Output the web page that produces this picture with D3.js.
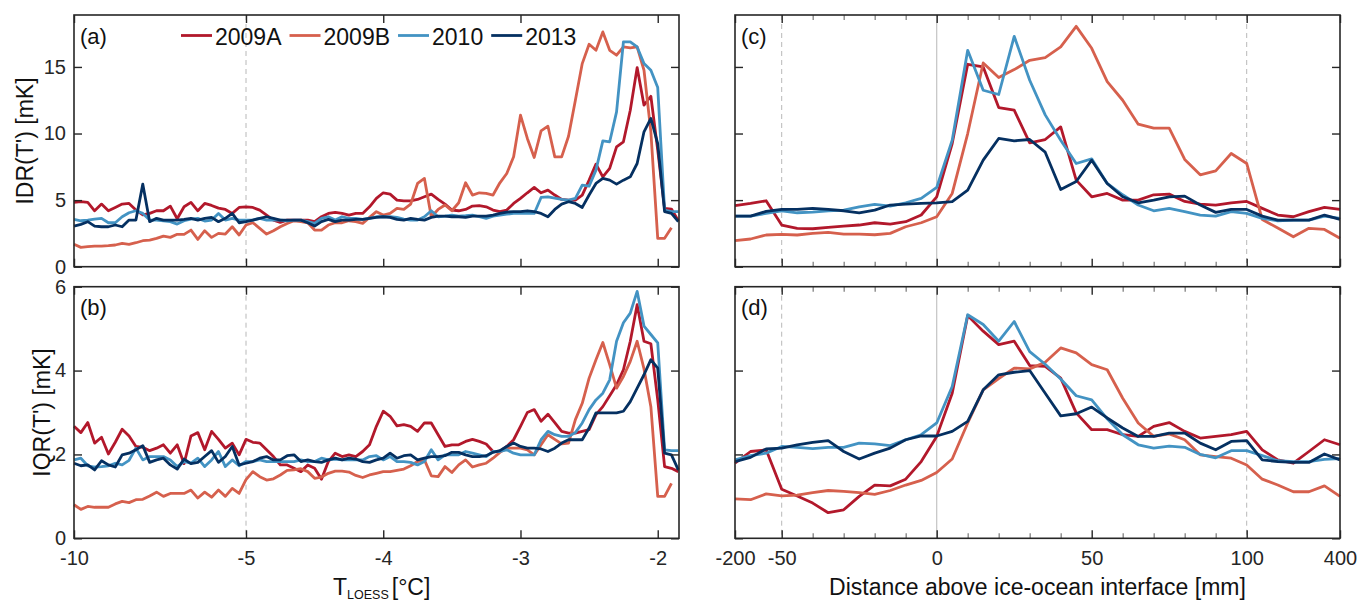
<!DOCTYPE html>
<html>
<head>
<meta charset="utf-8">
<script src="https://cdn.jsdelivr.net/npm/d3@7"></script>
<style>
    body { margin: 0; background: #fff; }
    svg { display: block; font-family: "Liberation Sans", Arial, Helvetica, sans-serif; }
</style>
</head>
<body>
<svg id="chart" width="1361" height="603"></svg>
<script>
// series
var seriesNames = ["2009A", "2009B", "2010", "2013"];
var seriesColors = ["#b2182b", "#d6604d", "#4393c3", "#053061"];

// panels (a) and (b): binned by T_LOESS
var tempGrid = [-10, -9.8, -9.6, -9.4, -9.2, -9, -8.8, -8.6, -8.4, -8.2, -8, -7.8, -7.6, -7.4, -7.2, -7,
    -6.8, -6.6, -6.4, -6.2, -6, -5.8, -5.6, -5.4, -5.2, -5,
    -4.95, -4.9, -4.85, -4.8, -4.75, -4.7, -4.65, -4.6, -4.55, -4.5, -4.45, -4.4, -4.35, -4.3, -4.25, -4.2,
    -4.15, -4.1, -4.05, -4, -3.95, -3.9, -3.85, -3.8, -3.75, -3.7, -3.65, -3.6, -3.55, -3.5, -3.45, -3.4,
    -3.35, -3.3, -3.25, -3.2, -3.15, -3.1, -3.05, -3, -2.95, -2.9, -2.85, -2.8, -2.75, -2.7, -2.65, -2.6,
    -2.55, -2.5, -2.45, -2.4, -2.35, -2.3, -2.25, -2.2, -2.15, -2.1, -2.05, -2, -1.95, -1.9, -1.85];

var idr2009A = [4.83, 4.88, 4.83, 4.2, 4.7, 4.2, 4.45, 4.7, 4.75, 4.25, 3.9, 4.0, 4.2, 4.2, 4.55, 3.6,
    4.5, 4.83, 4.2, 4.75, 4.6, 4.4, 4.3, 4.0, 4.45, 4.5,
    4.45, 4.25, 3.88, 3.5, 3.33, 3.5, 3.5, 3.5, 3.5, 3.38, 3.75, 4.0, 4.08, 4.0, 3.88, 4.0,
    4.0, 4.5, 5.13, 5.55, 5.45, 5.0, 4.95, 4.95, 5.05, 5.25, 5.45, 5.05, 4.7, 4.25, 4.2, 4.3,
    4.55, 4.58, 4.5, 4.25, 4.13, 4.25, 4.75, 5.13, 5.55, 5.95, 5.55, 5.75, 5.38, 5.05, 5.0, 5.0,
    5.38, 6.5, 7.7, 6.75, 7.38, 9.0, 9.38, 11.75, 14.95, 12.13, 12.8, 8.75, 4.38, 4.33, 3.45];
var idr2009B = [1.68, 1.45, 1.5, 1.55, 1.55, 1.58, 1.63, 1.75, 1.68, 1.8, 1.95, 2.0, 2.13, 2.3, 2.2, 2.43,
    2.43, 2.75, 2.05, 2.7, 2.2, 2.5, 2.45, 3.0, 2.38, 3.13,
    3.3, 2.88, 2.45, 2.7, 3.0, 3.25, 3.45, 3.38, 3.3, 2.75, 2.75, 3.13, 3.3, 3.3, 3.45, 3.38,
    3.25, 3.7, 4.13, 3.88, 4.0, 4.38, 4.3, 4.7, 6.25, 6.63, 3.75, 4.3, 4.63, 4.2, 4.8, 6.3,
    5.38, 5.55, 5.5, 5.38, 6.3, 7.0, 8.25, 11.38, 9.63, 8.2, 10.2, 10.55, 8.25, 8.25, 9.8, 12.5,
    15.25, 16.7, 16.25, 17.63, 16.25, 15.88, 16.5, 16.43, 16.5, 14.75, 10.13, 2.13, 2.13, 2.93, null];
var idr2010 = [3.55, 3.45, 3.5, 3.58, 3.63, 3.3, 3.3, 3.75, 4.05, 4.2, 4.0, 3.5, 3.5, 3.45, 3.38, 3.2,
    3.45, 3.58, 3.63, 3.43, 3.5, 4.0, 3.5, 3.63, 3.5, 3.5,
    3.5, 3.63, 3.5, 3.5, 3.5, 3.45, 3.5, 3.5, 3.38, 3.25, 3.63, 3.75, 3.5, 3.75, 3.63, 3.63,
    3.55, 3.63, 3.75, 3.75, 3.75, 3.7, 3.58, 3.5, 3.5, 3.75, 4.2, 3.75, 3.8, 3.88, 3.8, 3.83,
    3.88, 3.75, 3.63, 3.8, 3.88, 3.95, 4.0, 4.0, 4.0, 4.0, 5.2, 5.25, 5.15, 5.05, 5.0, 5.13,
    6.13, 6.05, 7.25, 9.45, 9.38, 11.63, 16.88, 16.88, 16.5, 15.25, 14.75, 13.45, 4.25, 4.13, 4.13];
var idr2013 = [3.05, 3.18, 3.38, 3.05, 3.0, 3.0, 3.13, 3.0, 3.5, 3.5, 6.2, 3.38, 3.63, 3.5, 3.5, 3.5,
    3.55, 3.63, 3.5, 3.63, 3.7, 3.38, 3.63, 4.0, 3.3, 3.38,
    3.5, 3.63, 3.75, 3.63, 3.5, 3.5, 3.5, 3.5, 3.3, 3.05, 3.38, 3.55, 3.38, 3.5, 3.5, 3.55,
    3.55, 3.63, 3.7, 3.75, 3.7, 3.55, 3.5, 3.63, 3.55, 3.5, 3.7, 3.8, 3.8, 3.75, 3.75, 3.7,
    3.8, 3.8, 3.8, 3.88, 4.0, 4.1, 4.13, 4.13, 4.2, 4.13, 4.0, 3.75, 4.3, 4.7, 4.88, 4.75,
    4.45, 5.38, 6.25, 6.63, 6.5, 6.2, 6.5, 6.75, 7.75, 10.13, 11.13, 9.25, 4.13, 4.0, 3.38];

var iqr2009A = [2.67, 2.52, 2.76, 2.27, 2.41, 2.01, 2.29, 2.6, 2.44, 2.19, 2.17, 2.09, 2.15, 2.23, 2.03, 2.23,
    1.78, 2.44, 2.52, 2.11, 2.55, 2.36, 2.15, 2.27, 1.99, 2.36,
    2.29, 2.27, 2.11, 1.95, 1.75, 1.75, 1.67, 1.59, 1.75, 1.67, 1.41, 1.83, 2.03, 1.95, 1.99, 1.95,
    2.07, 2.23, 2.67, 3.03, 2.91, 2.68, 2.71, 2.67, 2.55, 2.75, 2.75, 2.47, 2.19, 2.23, 2.23, 2.31,
    2.36, 2.31, 2.25, 2.07, 2.07, 2.19, 2.35, 2.67, 3.0, 3.07, 2.79, 2.96, 2.76, 2.55, 2.51, 2.51,
    2.55, 2.59, 2.95, 3.14, 3.4, 3.66, 4.02, 4.7, 5.57, 4.7, 4.64, 3.3, 1.71, 1.67, 1.59];
var iqr2009B = [0.8, 0.69, 0.76, 0.74, 0.74, 0.74, 0.82, 0.88, 0.85, 0.92, 0.93, 1.01, 1.1, 1.0, 1.07, 1.07,
    1.07, 1.15, 0.96, 1.1, 0.98, 1.15, 1.0, 1.19, 1.07, 1.4,
    1.59, 1.47, 1.39, 1.42, 1.51, 1.62, 1.63, 1.66, 1.59, 1.43, 1.46, 1.55, 1.6, 1.6, 1.58, 1.5,
    1.45, 1.51, 1.55, 1.59, 1.59, 1.62, 1.65, 1.73, 1.83, 1.87, 1.49, 1.47, 1.71, 1.57, 1.75, 1.87,
    1.7, 1.75, 1.79, 1.91, 2.05, 2.15, 2.15, 2.15, 2.11, 1.99, 2.23, 2.47, 2.36, 2.25, 2.27, 2.83,
    3.22, 3.82, 4.26, 4.67, 4.14, 3.58, 3.86, 4.22, 4.7, 4.04, 3.14, 1.0, 1.0, 1.31, null];
var iqr2010 = [1.87, 1.91, 1.73, 1.7, 1.71, 1.73, 1.79, 1.75, 1.86, 2.15, 1.87, 1.95, 1.95, 1.95, 1.87, 1.71,
    1.83, 1.79, 1.91, 1.71, 1.87, 2.07, 1.71, 1.87, 1.73, 1.83,
    1.83, 1.87, 1.83, 1.83, 1.83, 1.83, 1.83, 1.87, 1.83, 1.83, 1.91, 1.87, 1.89, 1.87, 1.87, 1.87,
    1.87, 1.95, 1.97, 1.87, 1.95, 1.83, 1.83, 1.81, 1.75, 1.83, 2.11, 1.87, 1.99, 1.99, 1.99, 2.07,
    2.03, 1.99, 1.95, 2.07, 2.07, 2.11, 2.03, 1.99, 1.99, 1.99, 2.35, 2.55, 2.47, 2.43, 2.43, 2.52,
    2.75, 3.07, 3.3, 3.46, 3.78, 4.7, 5.14, 5.37, 5.89, 5.06, 4.86, 4.66, 2.11, 2.09, 2.09];
var iqr2013 = [1.79, 1.73, 1.75, 1.63, 1.85, 1.75, 1.7, 1.99, 2.03, 2.11, 2.21, 1.81, 1.87, 1.91, 1.75, 1.65,
    1.89, 1.78, 1.81, 1.95, 2.09, 1.81, 1.95, 2.19, 1.75, 1.79,
    1.83, 1.91, 1.95, 1.87, 1.87, 1.97, 1.99, 1.83, 1.87, 1.83, 1.81, 1.87, 1.91, 1.87, 1.91, 1.89,
    1.83, 1.81, 1.87, 1.91, 2.03, 1.91, 1.97, 1.99, 1.87, 1.91, 1.95, 1.95, 1.97, 2.05, 2.05, 1.99,
    1.95, 1.95, 1.97, 2.05, 2.09, 2.19, 2.27, 2.19, 2.15, 2.15, 2.13, 2.07, 2.15, 2.27, 2.35, 2.35,
    2.35, 2.63, 2.99, 2.99, 2.99, 2.99, 3.03, 3.26, 3.58, 3.9, 4.26, 4.06, 2.03, 1.99, 1.63];

// panels (c) and (d): binned by distance above the interface [mm]
var distGrid = [-200, -150, -100, -50, -45, -40, -35, -30, -25, -20, -15, -10, -5, 0, 5, 10, 15, 20, 25, 30,
    35, 40, 45, 50, 55, 60, 65, 70, 75, 80, 85, 90, 95, 100, 150, 200, 250, 300, 350, 400];

var idrDist2009A = [4.58, 4.75, 4.95, 3.13, 2.88, 2.85, 2.95, 3.05, 3.13, 3.3, 3.2, 3.38, 3.88, 5.25, 9.25, 15.2,
    15.0, 11.95, 11.75, 9.3, 9.55, 10.5, 6.5, 5.25, 5.5, 5.0, 5.0, 5.4, 5.45, 4.9, 4.7, 4.63, 4.8, 4.9,
    4.38, 3.88, 3.75, 4.13, 4.45, 4.3];
var idrDist2009B = [1.95, 2.08, 2.38, 2.43, 2.38, 2.5, 2.58, 2.45, 2.45, 2.4, 2.5, 3.0, 3.3, 3.75, 5.5, 10.0,
    15.3, 14.2, 14.8, 15.5, 15.7, 16.5, 18.05, 16.4, 13.9, 12.5, 10.7, 10.4, 10.4, 8.05, 6.9, 7.2, 8.5, 7.75,
    3.55, 2.9, 2.25, 2.88, 2.8, 2.13];
var idrDist2010 = [3.8, 3.8, 4.0, 4.2, 4.05, 4.1, 4.2, 4.25, 4.5, 4.68, 4.55, 4.8, 5.13, 5.95, 9.5, 16.25,
    13.25, 12.93, 17.3, 14.0, 11.4, 9.5, 7.75, 8.1, 6.25, 5.4, 4.63, 4.2, 4.38, 4.13, 3.88, 3.8, 4.13, 4.0,
    3.63, 3.45, 3.5, 3.5, 3.8, 3.63];
var idrDist2013 = [3.8, 3.8, 4.15, 4.3, 4.3, 4.38, 4.3, 4.2, 4.05, 4.25, 4.63, 4.7, 4.75, 4.8, 4.88, 5.75,
    8.0, 9.63, 9.45, 9.55, 8.6, 5.8, 6.4, 8.0, 6.25, 5.25, 4.8, 5.0, 5.25, 5.3, 4.63, 4.08, 4.3, 4.3,
    3.8, 3.5, 3.5, 3.5, 3.88, 3.55];

var iqrDist2009A = [1.79, 2.07, 2.11, 1.17, 1.01, 0.84, 0.61, 0.68, 1.0, 1.27, 1.25, 1.41, 1.83, 2.43, 3.46, 5.31,
    4.94, 4.62, 4.7, 4.12, 4.1, 3.82, 2.99, 2.59, 2.59, 2.47, 2.43, 2.67, 2.76, 2.55, 2.39, 2.43, 2.47, 2.55,
    2.11, 1.87, 1.79, 2.07, 2.35, 2.23];
var iqrDist2009B = [0.94, 0.92, 1.06, 1.01, 1.03, 1.09, 1.14, 1.12, 1.09, 1.05, 1.14, 1.27, 1.38, 1.57, 1.89, 2.75,
    3.54, 3.81, 4.06, 4.04, 4.2, 4.54, 4.42, 4.14, 4.02, 3.34, 2.75, 2.43, 2.49, 2.35, 1.99, 1.95, 1.91, 1.75,
    1.41, 1.27, 1.11, 1.11, 1.25, 1.0];
var iqrDist2010 = [1.87, 1.97, 2.03, 2.19, 2.17, 2.14, 2.17, 2.17, 2.27, 2.25, 2.21, 2.35, 2.47, 2.75, 3.62, 5.33,
    5.1, 4.7, 5.17, 4.45, 4.15, 3.8, 3.4, 3.3, 2.85, 2.47, 2.23, 2.15, 2.2, 2.17, 2.0, 1.92, 2.09, 2.09,
    1.97, 1.85, 1.83, 1.83, 1.88, 1.9];
var iqrDist2013 = [1.83, 1.93, 2.13, 2.15, 2.23, 2.29, 2.33, 2.07, 1.89, 2.03, 2.15, 2.35, 2.44, 2.44, 2.55, 2.79,
    3.54, 3.9, 3.96, 4.0, 3.46, 2.92, 2.97, 3.13, 2.87, 2.63, 2.43, 2.43, 2.51, 2.51, 2.27, 2.11, 2.31, 2.33,
    1.87, 1.83, 1.81, 1.81, 2.01, 1.87];

// ticks
var tempTicks = [-10, -5, -4, -3, -2];
var distTicks = [-200, -50, 0, 50, 100, 400];
var distMinorTicks = [-40, -30, -20, -10, 10, 20, 30, 40, 60, 70, 80, 90];
var idrTicks = [0, 5, 10, 15];
var iqrTicks = [0, 2, 4, 6];

var svg = d3.select("#chart");
var axisColor = "#262626";

var xTemp = d3.scaleLinear().domain([-10, -5, -1.845]).range([74, 246, 679]);
var xDist = d3.scaleLinear().domain([-200, -50, 100, 400]).range([735, 781.7, 1246.7, 1340]);
var yIdr = d3.scaleLinear().domain([0, 18.9]).range([266.7, 15]);
var yIqr = d3.scaleLinear().domain([0, 6]).range([538.3, 286.7]);

var panels = [
    {name: "(a)", x: xTemp, y: yIdr, xs: tempGrid, data: [idr2009A, idr2009B, idr2010, idr2013],
        xTicks: tempTicks, yTicks: idrTicks, xLabels: false, yLabels: true, dashed: [-5], solid: []},
    {name: "(b)", x: xTemp, y: yIqr, xs: tempGrid, data: [iqr2009A, iqr2009B, iqr2010, iqr2013],
        xTicks: tempTicks, yTicks: iqrTicks, xLabels: true, yLabels: true, dashed: [-5], solid: []},
    {name: "(c)", x: xDist, y: yIdr, xs: distGrid, data: [idrDist2009A, idrDist2009B, idrDist2010, idrDist2013],
        xTicks: distTicks, minor: distMinorTicks, yTicks: idrTicks, xLabels: false, yLabels: false, dashed: [-50, 100], solid: [0]},
    {name: "(d)", x: xDist, y: yIqr, xs: distGrid, data: [iqrDist2009A, iqrDist2009B, iqrDist2010, iqrDist2013],
        xTicks: distTicks, minor: distMinorTicks, yTicks: iqrTicks, xLabels: true, yLabels: false, dashed: [-50, 100], solid: [0]}
];

function styleAxis(g, color) {
    g.select(".domain").remove();
    g.selectAll(".tick line").attr("stroke", color).attr("stroke-width", 1.4);
    g.selectAll(".tick text").attr("fill", axisColor).style("font-size", "20px")
        .style("font-family", "\"Liberation Sans\", Arial, Helvetica, sans-serif");
}

panels.forEach(function (p) {
    var x0 = p.x.range()[0], x1 = p.x.range()[p.x.range().length - 1];
    var yb = p.y.range()[0], yt = p.y.range()[1];
    var g = svg.append("g");

    // reference lines
    p.dashed.forEach(function (v) {
        g.append("line")
            .attr("x1", p.x(v)).attr("x2", p.x(v)).attr("y1", yt).attr("y2", yb)
            .attr("stroke", "#b8b8b8").attr("stroke-width", 1).attr("stroke-dasharray", "5,4");
    });
    p.solid.forEach(function (v) {
        g.append("line")
            .attr("x1", p.x(v)).attr("x2", p.x(v)).attr("y1", yt).attr("y2", yb)
            .attr("stroke", "#c4c4c4").attr("stroke-width", 1.2);
    });

    var line = d3.line()
        .defined(function (d) { return d[1] !== null; })
        .x(function (d) { return p.x(d[0]); })
        .y(function (d) { return p.y(d[1]); });

    p.data.forEach(function (vals, i) {
        var pts = p.xs.map(function (t, j) { return [t, vals[j]]; });
        g.append("path")
            .datum(pts)
            .attr("fill", "none")
            .attr("stroke", seriesColors[i])
            .attr("stroke-width", 2.8)
            .attr("stroke-linejoin", "round")
            .attr("d", line);
    });

    // axes, ticks pointing inward on all four sides
    var fmt = function (d) { return String(d); };
    g.append("g").attr("transform", "translate(0," + yb + ")")
        .call(d3.axisBottom(p.x).tickValues(p.xTicks).tickSize(-8).tickPadding(13)
            .tickFormat(p.xLabels ? fmt : ""))
        .call(styleAxis, axisColor);
    g.append("g").attr("transform", "translate(0," + yt + ")")
        .call(d3.axisTop(p.x).tickValues(p.xTicks).tickSize(-8).tickFormat(""))
        .call(styleAxis, axisColor);
    if (p.minor) {
        g.append("g").attr("transform", "translate(0," + yb + ")")
            .call(d3.axisBottom(p.x).tickValues(p.minor).tickSize(-5).tickFormat(""))
            .call(styleAxis, "#8a8a8a");
        g.append("g").attr("transform", "translate(0," + yt + ")")
            .call(d3.axisTop(p.x).tickValues(p.minor).tickSize(-5).tickFormat(""))
            .call(styleAxis, "#8a8a8a");
    }
    g.append("g").attr("transform", "translate(" + x0 + ",0)")
        .call(d3.axisLeft(p.y).tickValues(p.yTicks).tickSize(-8).tickPadding(8)
            .tickFormat(p.yLabels ? fmt : ""))
        .call(styleAxis, axisColor);
    g.append("g").attr("transform", "translate(" + x1 + ",0)")
        .call(d3.axisRight(p.y).tickValues(p.yTicks).tickSize(-8).tickFormat(""))
        .call(styleAxis, axisColor);

    g.append("rect")
        .attr("x", x0).attr("y", yt).attr("width", x1 - x0).attr("height", yb - yt)
        .attr("fill", "none").attr("stroke", axisColor).attr("stroke-width", 1.6);

    g.append("text")
        .attr("x", x0 + 6).attr("y", yt + 28.5)
        .attr("fill", "#111").style("font-size", "22px")
        .text(p.name);
});

// legend inside panel (a)
var legend = svg.append("g");
var lx = 181;
seriesNames.forEach(function (name, i) {
    legend.append("line")
        .attr("x1", lx).attr("x2", lx + 31).attr("y1", 35.5).attr("y2", 35.5)
        .attr("stroke", seriesColors[i]).attr("stroke-width", 2.8);
    var t = legend.append("text")
        .attr("x", lx + 34).attr("y", 44.5)
        .attr("fill", "#111").style("font-size", "23px")
        .text(name);
    lx = lx + 34 + t.node().getComputedTextLength() + 8;
});

// axis labels
svg.append("text")
    .attr("transform", "translate(33,141) rotate(-90)")
    .attr("text-anchor", "middle").attr("fill", "#111").style("font-size", "23px")
    .text("IDR(T') [mK]");
svg.append("text")
    .attr("transform", "translate(50,412.5) rotate(-90)")
    .attr("text-anchor", "middle").attr("fill", "#111").style("font-size", "23px")
    .text("IQR(T') [mK]");

// T_LOESS [°C]: subscript sits low, just above the bottom edge
var tMain = svg.append("text").attr("x", 333).attr("y", 595)
    .attr("fill", "#111").style("font-size", "23px").text("T");
var tSub = svg.append("text").attr("x", 333 + tMain.node().getComputedTextLength()).attr("y", 599)
    .attr("fill", "#111").style("font-size", "12.5px").text("LOESS");
svg.append("text")
    .attr("x", +tSub.attr("x") + tSub.node().getComputedTextLength() + 3).attr("y", 595)
    .attr("fill", "#111").style("font-size", "23px").text("[°C]");

svg.append("text")
    .attr("x", 1037.5).attr("y", 595)
    .attr("text-anchor", "middle").attr("fill", "#111").style("font-size", "23px")
    .text("Distance above ice-ocean interface [mm]");
</script>
</body>
</html>
